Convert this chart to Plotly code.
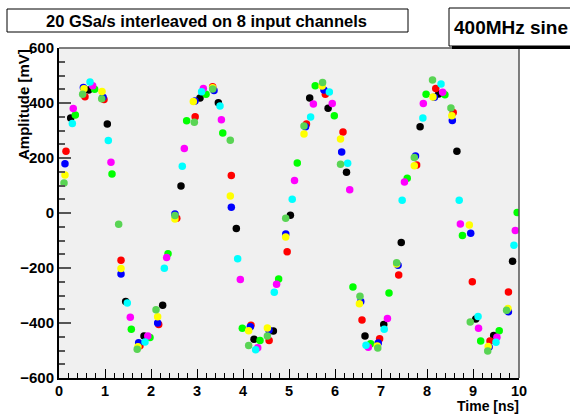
import plotly.graph_objects as go

# ---- data (time in ns, amplitude in mV) per input channel ----
black_t = [0.254, 0.645, 1.05, 1.45, 1.848, 2.254, 2.652, 3.065, 3.464, 3.855, 4.24, 4.66, 5.03, 5.45, 5.85, 6.25, 6.652, 7.06, 7.44, 7.85, 8.254, 8.65, 9.06, 9.45, 9.86]
black_v = [345, 447, 324, -322, -447, -335, 98, 418, 401, -56, -459, -429, -8, 418, 381, 148, -447, -405, -107, 314, 433, 225, -385, -445, -175]

red_t = [0.152, 0.565, 0.978, 1.348, 1.76, 2.167, 2.56, 2.96, 3.34, 3.746, 4.174, 4.568, 4.96, 5.38, 5.79, 6.174, 6.587, 6.97, 7.385, 7.775, 8.19, 8.57, 8.985, 9.37, 9.77]
red_v = [225, 423, 413, -172, -483, -405, -19, 350, 459, 136, -408, -464, -141, 324, 432, 295, -389, -457, -225, 175, 453, 365, -250, -465, -287]

green_t = [0.355, 0.775, 1.152, 1.572, 1.978, 2.37, 2.775, 3.196, 3.56, 3.985, 4.37, 4.775, 5.18, 5.57, 5.985, 6.39, 6.775, 7.174, 7.57, 7.98, 8.39, 8.77, 9.167, 9.57, 9.96]
green_v = [356, 450, 142, -423, -453, -148, 335, 432, 291, -419, -464, -240, 182, 463, 354, -269, -475, -291, 126, 432, 430, -82, -465, -428, 2]

blue_t = [0.13, 0.53, 0.957, 1.348, 1.732, 2.145, 2.52, 2.956, 3.37, 3.746, 4.16, 4.565, 4.93, 5.36, 5.76, 6.145, 6.56, 6.94, 7.37, 7.75, 8.16, 8.55, 8.95, 9.35, 9.77]
blue_v = [179, 456, 421, -222, -472, -400, -4, 407, 445, 21, -414, -426, -76, 314, 447, 222, -322, -473, -190, 207, 421, 336, -74, -487, -359]

yellow_t = [0.13, 0.543, 0.935, 1.348, 1.717, 2.145, 2.52, 2.92, 3.34, 3.724, 4.123, 4.53, 4.928, 5.326, 5.72, 6.12, 6.53, 6.92, 7.34, 7.724, 8.13, 8.54, 8.92, 9.33, 9.76]
yellow_v = [138, 452, 442, -202, -486, -377, -22, 405, 455, 62, -428, -418, -87, 287, 462, 269, -330, -484, -185, 172, 422, 354, -44, -485, -347]

magenta_t = [0.31, 0.732, 1.13, 1.55, 1.93, 2.34, 2.724, 3.138, 3.53, 3.942, 4.32, 4.73, 5.12, 5.53, 5.94, 6.32, 6.724, 7.14, 7.51, 7.92, 8.34, 8.725, 9.12, 9.52, 9.92]
magenta_v = [380, 463, 185, -379, -447, -162, 235, 453, 339, -242, -490, -259, 118, 396, 398, 85, -488, -384, 113, 398, 439, -40, -419, -452, -64]

cyan_t = [0.29, 0.674, 1.072, 1.485, 1.87, 2.29, 2.68, 3.1, 3.5, 3.884, 4.275, 4.68, 5.07, 5.47, 5.877, 6.275, 6.674, 7.07, 7.46, 7.91, 8.305, 8.7, 9.11, 9.5, 9.89]
cyan_v = [325, 476, 264, -327, -469, -201, 170, 441, 389, -166, -497, -288, 50, 349, 440, 181, -481, -423, 46, 345, 469, 46, -376, -470, -117]

lgreen_t = [0.109, 0.514, 0.928, 1.297, 1.7, 2.109, 2.52, 2.942, 3.34, 3.724, 4.123, 4.53, 4.928, 5.326, 5.73, 6.12, 6.543, 6.93, 7.34, 7.724, 8.12, 8.52, 8.94, 9.32, 9.73]
lgreen_v = [109, 432, 415, -41, -495, -352, -9, 330, 451, 265, -482, -447, -19, 316, 475, 177, -303, -491, -181, 202, 484, 382, -396, -502, -354]

series = [
    ("ch1", black_t, black_v, "#000000"),
    ("ch2", red_t, red_v, "#ff0000"),
    ("ch3", green_t, green_v, "#00ff00"),
    ("ch4", blue_t, blue_v, "#0000ff"),
    ("ch5", yellow_t, yellow_v, "#ffff00"),
    ("ch6", magenta_t, magenta_v, "#ff00ff"),
    ("ch7", cyan_t, cyan_v, "#00ffff"),
    ("ch8", lgreen_t, lgreen_v, "#59d454"),
]

title_text = "20 GSa/s interleaved on 8 input channels"
label_text = "400MHz sine"
x_title = "Time [ns]"
y_title = "Amplitude [mV]"

W, H = 570, 415
L, R, T, B = 59, 519, 48, 378  # plot area in pixels


def px(x):
    return (x - L) / (R - L)


def py(y):
    return (B - y) / (B - T)


FONT = "Liberation Sans, Arial, Helvetica, sans-serif"

fig = go.Figure()
for name, t, v, c in series:
    fig.add_trace(go.Scatter(x=t, y=v, mode="markers", name=name,
                             marker=dict(color=c, size=7.5, line=dict(width=0)),
                             showlegend=False, hoverinfo="skip"))

fig.update_layout(
    width=W, height=H,
    margin=dict(l=L, r=W - R, t=T, b=H - B, pad=0),
    paper_bgcolor="white", plot_bgcolor="#f0f0f0",
    font=dict(family=FONT, color="black"),
)

fig.update_xaxes(
    range=[0, 10], dtick=1, tick0=0, showgrid=False, zeroline=False,
    showline=True, linecolor="black", linewidth=2,
    ticks="inside", ticklen=9, tickwidth=1, tickcolor="black",
    minor=dict(dtick=0.2, ticks="inside", ticklen=5, tickwidth=1, tickcolor="black", showgrid=False),
    tickfont=dict(family=FONT, size=14.5, weight="bold", color="black"),
    ticklabelstandoff=-1,
)
fig.update_yaxes(
    range=[-600, 600], dtick=200, tick0=0, showgrid=False, zeroline=False,
    showline=True, linecolor="black", linewidth=2,
    ticks="inside", ticklen=12, tickwidth=1.5, tickcolor="#555555",
    minor=dict(dtick=50, ticks="inside", ticklen=6, tickwidth=1.5, tickcolor="#555555", showgrid=False),
    tickfont=dict(family=FONT, size=15, weight="bold", color="black"),
    ticklabelstandoff=0,
)

# frame top/right
fig.add_shape(type="line", xref="paper", yref="paper", x0=0, x1=1, y0=1, y1=1,
              line=dict(color="#555555", width=1.5))
fig.add_shape(type="line", xref="paper", yref="paper", x0=1, x1=1, y0=0, y1=1,
              line=dict(color="#555555", width=1.5))

# title box
fig.add_shape(type="rect", xref="paper", yref="paper",
              x0=px(7), x1=px(408), y0=py(32), y1=py(9),
              line=dict(color="black", width=1), fillcolor="white")
fig.add_annotation(xref="paper", yref="paper", x=px(206), y=py(20.5),
                   text=f"<b>{title_text}</b>", showarrow=False,
                   xanchor="center", yanchor="middle",
                   font=dict(family=FONT, size=16.5, color="black"))

# label box with shadow
fig.add_shape(type="rect", xref="paper", yref="paper",
              x0=px(452), x1=px(580), y0=py(49), y1=py(11),
              line=dict(width=0), fillcolor="black")
fig.add_shape(type="rect", xref="paper", yref="paper",
              x0=px(449), x1=px(577), y0=py(46), y1=py(8),
              line=dict(color="black", width=1), fillcolor="white")
fig.add_annotation(xref="paper", yref="paper", x=px(452), y=py(27.5),
                   text=f"<b>{label_text}</b>", showarrow=False,
                   xanchor="left", yanchor="middle",
                   font=dict(family=FONT, size=19, color="black"))

# axis titles
fig.add_annotation(xref="paper", yref="paper", x=1.002, y=py(415),
                   text=f"<b>{x_title}</b>", showarrow=False,
                   xanchor="right", yanchor="bottom", borderpad=0,
                   font=dict(family=FONT, size=14, color="black"))
fig.add_annotation(xref="paper", yref="paper", x=px(13), y=py(47),
                   text=f"<b>{y_title}</b>", showarrow=False, textangle=-90,
                   xanchor="left", yanchor="top",
                   font=dict(family=FONT, size=15, color="black"))

fig.write_html("out.html")
